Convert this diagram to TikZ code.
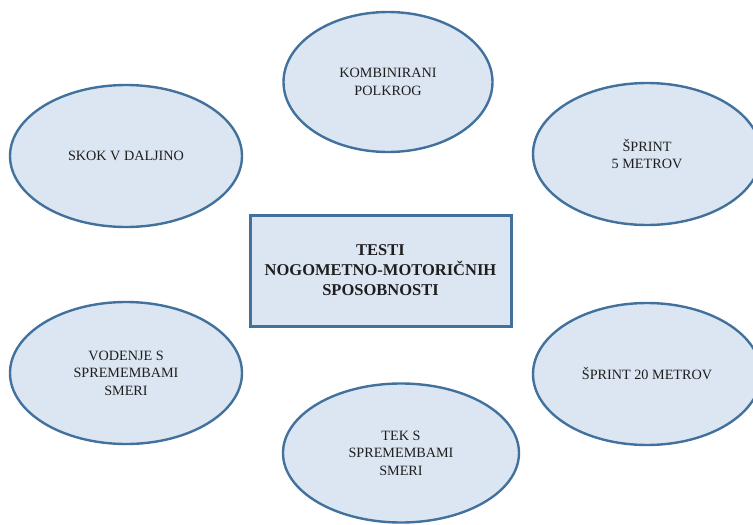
\documentclass[tikz,border=0pt]{standalone}
\usepackage{fontspec}
\setmainfont{Liberation Serif}
\usetikzlibrary{shapes.geometric}
\definecolor{fillblue}{RGB}{220,230,242}
\definecolor{lineblue}{RGB}{65,113,156}
\definecolor{txt}{RGB}{30,30,30}
\tikzset{
  oval/.style={ellipse, draw=lineblue, fill=fillblue, line width=2.4pt,
    minimum width=#1, minimum height=142pt, inner sep=0pt, align=center,
    text=txt, font=\fontsize{14.2}{17.6}\selectfont},
  oval/.default=232pt,
  centerbox/.style={rectangle, draw=lineblue, fill=fillblue, line width=3pt,
    minimum width=261pt, minimum height=111pt, align=center, text=txt,
    font=\fontsize{16.5}{20}\selectfont\bfseries}
}
\begin{document}
\begin{tikzpicture}[x=1pt,y=-1pt]
\useasboundingbox (0,0) rectangle (753,525);
\clip (0,0) rectangle (753,525);
\node[oval=209pt, minimum height=140pt] (komb) at (388,82) {KOMBINIRANI\\POLKROG};
\node[oval] (skok) at (126,156) {SKOK V DALJINO};
\node[oval=228pt] (sp5) at (647,154) {ŠPRINT\\5 METROV};
\node[centerbox] (center) at (380.5,270.5) {TESTI\\NOGOMETNO-MOTORIČNIH\\SPOSOBNOSTI};
\node[oval] (vod) at (126,373) {VODENJE S\\SPREMEMBAMI\\SMERI};
\node[oval=228pt] (sp20) at (647,374) {ŠPRINT 20 METROV};
\node[oval=236pt, minimum height=139pt] (tek) at (401,453) {TEK S\\SPREMEMBAMI\\SMERI};
\end{tikzpicture}
\end{document}
